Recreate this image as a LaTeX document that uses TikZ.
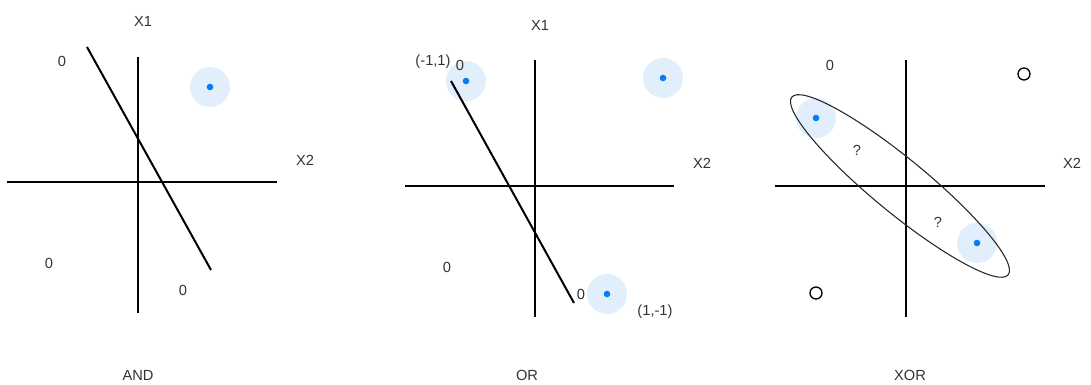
\documentclass[tikz,border=0pt]{standalone}
\usepackage{fontspec}
\setmainfont{Liberation Sans}
\definecolor{halo}{HTML}{E1EFFD}
\definecolor{dotblue}{HTML}{0A7BF5}
\definecolor{txt}{HTML}{333333}
\begin{document}
\begin{tikzpicture}[x=0.75pt,y=-0.75pt,line width=1.5pt,font=\fontsize{11}{13}\selectfont,
		lbl/.style={text=txt,inner sep=0pt},
		axis/.style={line width=1.6pt},
		hit/.style={fill=halo},
		dot/.style={fill=dotblue}]
	\useasboundingbox (0,0) rectangle (1091,385);
	% AND
	\fill[hit] (210,87) circle (20);
	\fill[dot] (210,87) circle (3.3);
	\coordinate (a-top) at (138,57);
	\coordinate (a-bot) at (138,313);
	\coordinate (a-left) at (7,182);
	\coordinate (a-right) at (277,182);
	\coordinate (a-s) at (87,47);
	\coordinate (a-e) at (211,270);
	\draw[axis] (a-top) -- (a-bot);
	\draw[axis] (a-left) -- (a-right);
	\draw (a-s) -- (a-e);
	\node[lbl] (a-x1) at (143,21) {X1};
	\node[lbl] (a-x2) at (305,160) {X2};
	\node[lbl] (a-z1) at (62,61) {0};
	\node[lbl] (a-z2) at (49,263) {0};
	\node[lbl] (a-z3) at (183,290) {0};
	\node[lbl] (a-name) at (138,375) {AND};
	% OR
	\fill[hit] (466,81) circle (20);
	\fill[dot] (466,81) circle (3.3);
	\fill[hit] (663,78) circle (20);
	\fill[dot] (663,78) circle (3.3);
	\fill[hit] (607,294) circle (20);
	\fill[dot] (607,294) circle (3.3);
	\coordinate (o-top) at (535,60);
	\coordinate (o-bot) at (535,317);
	\coordinate (o-left) at (405,186);
	\coordinate (o-right) at (674,186);
	\coordinate (o-s) at (451,81);
	\coordinate (o-e) at (574,303);
	\draw[axis] (o-top) -- (o-bot);
	\draw[axis] (o-left) -- (o-right);
	\draw (o-s) -- (o-e);
	\node[lbl] (o-x1) at (540,25) {X1};
	\node[lbl] (o-x2) at (702,163) {X2};
	\node[lbl] (o-p1) at (433,62) {(-1,1)};
	\node[lbl] (o-z1) at (460,65) {0};
	\node[lbl] (o-z2) at (447,267) {0};
	\node[lbl] (o-z3) at (581,294) {0};
	\node[lbl] (o-p2) at (655,312) {(1,-1)};
	\node[lbl] (o-name) at (527,375) {OR};
	% XOR
	\fill[hit] (816,118) circle (20);
	\fill[dot] (816,118) circle (3.3);
	\fill[hit] (977,243) circle (20);
	\fill[dot] (977,243) circle (3.3);
	\coordinate (x-top) at (906,60);
	\coordinate (x-bot) at (906,317);
	\coordinate (x-left) at (775,186);
	\coordinate (x-right) at (1045,186);
	\coordinate (x-c) at (900,186);
	\draw[axis] (x-top) -- (x-bot);
	\draw[axis] (x-left) -- (x-right);
	\draw[line width=0.8pt,black!85,rotate around={-39.4:(x-c)}] (x-c) ellipse [x radius=140,y radius=27];
	\draw[line width=1pt] (1024,74) circle (6);
	\draw[line width=1pt] (816,293) circle (6);
	\node[lbl] (x-x2) at (1072,163) {X2};
	\node[lbl] (x-z1) at (830,65) {0};
	\node[lbl] (x-q1) at (857,150) {?};
	\node[lbl] (x-q2) at (938,222) {?};
	\node[lbl] (x-name) at (910,375) {XOR};
\end{tikzpicture}
\end{document}
